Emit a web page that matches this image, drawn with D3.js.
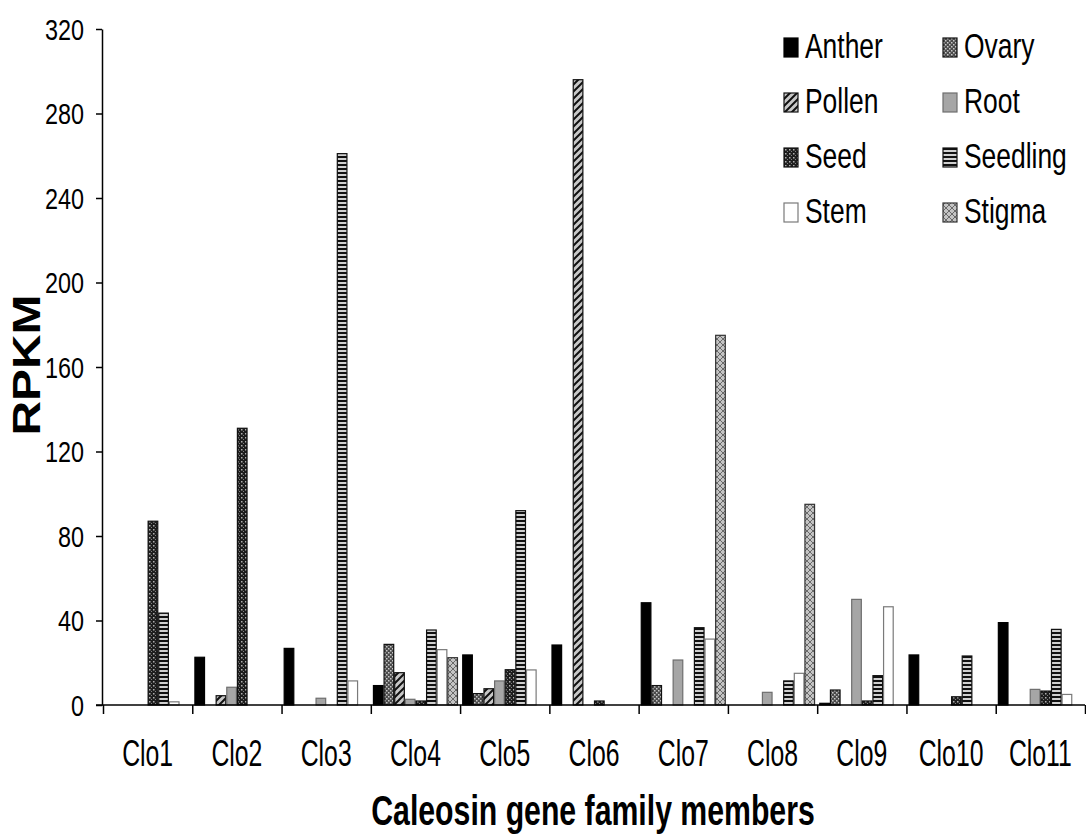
<!DOCTYPE html>
<html><head><meta charset="utf-8">
<script src="https://cdn.jsdelivr.net/npm/d3@7"></script>
<style>body{margin:0;background:#fff}svg{display:block}</style>
</head><body>
<svg id="c" width="1086" height="837"></svg>
<script>
const categories = ["Clo1","Clo2","Clo3","Clo4","Clo5","Clo6","Clo7","Clo8","Clo9","Clo10","Clo11"];
const seriesNames = ["Anther","Ovary","Pollen","Root","Seed","Seedling","Stem","Stigma"];
const anther   = [0, 22.6, 26.8, 9.2, 23.7, 28.4, 48.4, 0, 0.8, 23.7, 39];
const ovary    = [0, 0, 0, 28.7, 5.4, 0, 9.2, 0, 7.1, 0, 0];
const pollen   = [0, 4.4, 0, 15.3, 7.7, 296, 0, 0, 0, 0, 0];
const root     = [0, 8.4, 3.2, 2.7, 11.4, 0, 21.3, 6, 50, 0, 7.4];
const seed     = [87, 131, 0, 1.9, 16.7, 1.9, 0, 0, 1.9, 3.9, 6.6];
const seedling = [43.5, 0, 261, 35.5, 92, 0, 36.6, 11.4, 13.9, 23.2, 35.8];
const stem     = [1.5, 0, 11.4, 26.2, 16.6, 0, 31.2, 15, 46.5, 0, 5];
const stigma   = [0, 0, 0, 22.4, 0, 0, 175, 95, 0, 0, 0];
const yTicks = [0, 40, 80, 120, 160, 200, 240, 280, 320];
const xTitle = "Caleosin gene family members";
const yTitle = "RPKM";

const seriesValues = [anther, ovary, pollen, root, seed, seedling, stem, stigma];

const svg = d3.select("#c");
const defs = svg.append("defs");
const FONT = "Liberation Sans, Arial, sans-serif";

function pat(id, w, h, build) {
  const p = defs.append("pattern").attr("id", id).attr("patternUnits", "userSpaceOnUse")
    .attr("width", w).attr("height", h);
  build(p);
}
pat("p-ovary", 4, 4, p => {
  p.append("rect").attr("width", 4).attr("height", 4).attr("fill", "#4a4a4a");
  p.append("rect").attr("x", 0).attr("y", 0).attr("width", 1.5).attr("height", 1.5).attr("fill", "#c8c8c8");
  p.append("rect").attr("x", 2).attr("y", 2).attr("width", 1.5).attr("height", 1.5).attr("fill", "#c8c8c8");
});
pat("p-seed", 4, 4, p => {
  p.append("rect").attr("width", 4).attr("height", 4).attr("fill", "#1e1e1e");
  p.append("rect").attr("x", 1).attr("y", 1).attr("width", 1.5).attr("height", 1.5).attr("fill", "#b0b0b0");
  p.append("rect").attr("x", 3).attr("y", 3).attr("width", 1).attr("height", 1).attr("fill", "#808080");
});
pat("p-pollen", 7, 7, p => {
  p.append("rect").attr("width", 7).attr("height", 7).attr("fill", "#c8c8c8");
  p.append("path").attr("d", "M-1,8 L8,-1 M-4,4 L4,-4 M3,11 L11,3").attr("stroke", "#111").attr("stroke-width", 2);
});
pat("p-seedling", 4, 4, p => {
  p.append("rect").attr("width", 4).attr("height", 4).attr("fill", "#d0d0d0");
  p.append("rect").attr("y", 0).attr("width", 4).attr("height", 2).attr("fill", "#111");
});
pat("p-stigma", 6, 6, p => {
  p.append("rect").attr("width", 6).attr("height", 6).attr("fill", "#c4c4c4");
  p.append("path").attr("d", "M0,0 L6,6 M6,0 L0,6").attr("stroke", "#6a6a6a").attr("stroke-width", 1);
});

const styles = {
  Anther:   {fill: "#000", stroke: "#000"},
  Ovary:    {fill: "url(#p-ovary)", stroke: "#111"},
  Pollen:   {fill: "url(#p-pollen)", stroke: "#111"},
  Root:     {fill: "#a6a6a6", stroke: "#6e6e6e"},
  Seed:     {fill: "url(#p-seed)", stroke: "#111"},
  Seedling: {fill: "url(#p-seedling)", stroke: "#111"},
  Stem:     {fill: "#fff", stroke: "#7a7a7a"},
  Stigma:   {fill: "url(#p-stigma)", stroke: "#333"}
};

const y = d3.scaleLinear().domain([0, 320]).range([705, 29]);
const x0 = d3.scaleBand().domain(categories).range([103, 1085]).paddingInner(0).paddingOuter(0);
const x1 = d3.scaleBand().domain(seriesNames).range([0, x0.bandwidth()]).paddingInner(0).paddingOuter(0.2);

// condensed text: place with translate + horizontal scale
function condensed(sel, f) {
  sel.each(function() {
    const t = d3.select(this);
    const x = +t.attr("x") || 0, yy = +t.attr("y") || 0;
    t.attr("x", 0).attr("y", 0).attr("transform", `translate(${x},${yy}) scale(${f},1)`);
  });
}

// bars
const data = [];
categories.forEach((c, i) => seriesNames.forEach((s, j) => {
  const v = seriesValues[j][i];
  if (v > 0) data.push({c, s, v});
}));
svg.append("g").selectAll("rect").data(data).join("rect")
  .attr("x", d => x0(d.c) + x1(d.s) + 0.5)
  .attr("y", d => y(d.v))
  .attr("width", x1.bandwidth() - 1)
  .attr("height", d => y(0) - y(d.v))
  .attr("fill", d => styles[d.s].fill)
  .attr("stroke", d => styles[d.s].stroke)
  .attr("stroke-width", 1.2);

// y axis
const yAxis = svg.append("g").attr("transform", "translate(102,0)")
  .call(d3.axisLeft(y).tickValues(yTicks).tickSize(6).tickPadding(12).tickSizeOuter(0));
yAxis.select(".domain").attr("stroke", "#000").attr("stroke-width", 1.5);
yAxis.selectAll(".tick line").attr("stroke", "#000").attr("stroke-width", 1.5);
yAxis.selectAll("text").attr("font-family", FONT)
  .attr("font-size", 30).attr("fill", "#000").attr("dy", null).attr("y", 10)
  .call(condensed, 0.78);

// x axis
const xb = d3.scaleLinear().domain([0, categories.length]).range(x0.range());
const xAxis = svg.append("g").attr("transform", "translate(0,705)")
  .call(d3.axisBottom(xb).tickValues(d3.range(categories.length + 1)).tickSize(9).tickFormat("").tickSizeOuter(0));
xAxis.select(".domain").attr("stroke", "#000").attr("stroke-width", 1.5).attr("d", "M96,0H1085");
xAxis.selectAll(".tick line").attr("stroke", "#000").attr("stroke-width", 1.5);

svg.append("g").selectAll("text").data(categories).join("text")
  .attr("x", d => x0(d) + x0.bandwidth() / 2)
  .attr("y", 766)
  .attr("text-anchor", "middle")
  .attr("font-family", FONT)
  .attr("font-size", 37)
  .text(d => d)
  .call(condensed, 0.67);

// axis titles
svg.append("text").attr("x", 593).attr("y", 825).attr("text-anchor", "middle")
  .attr("font-family", FONT).attr("font-weight", "bold")
  .attr("font-size", 42).text(xTitle).call(condensed, 0.72);

svg.append("text").attr("transform", "translate(40,365) rotate(-90) scale(1.26,1)").attr("text-anchor", "middle")
  .attr("font-family", FONT).attr("font-weight", "bold")
  .attr("font-size", 38).text(yTitle);

// legend
const legendX = [784, 943];
const legendBase = [58, 113, 168, 223];
const lg = svg.append("g").selectAll("g").data(seriesNames).join("g")
  .attr("transform", (d, i) => `translate(${legendX[i % 2]},${legendBase[Math.floor(i / 2)]})`);
lg.append("rect").attr("x", 0).attr("y", -20).attr("width", 14).attr("height", 19)
  .attr("fill", d => styles[d].fill).attr("stroke", d => styles[d].stroke).attr("stroke-width", 1.2);
lg.append("text").attr("x", 21).attr("y", 0)
  .attr("font-family", FONT).attr("font-size", 35)
  .text(d => d).call(condensed, 0.755);
</script>
</body></html>
